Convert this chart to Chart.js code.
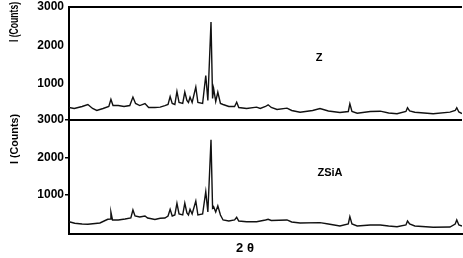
<!DOCTYPE html>
<html>
<head>
<meta charset="utf-8">
<script src="https://cdn.jsdelivr.net/npm/chart.js@4.4.1/dist/chart.umd.min.js"></script>
<style>
  html, body { margin: 0; padding: 0; background: #fff; }
  #wrap { position: relative; width: 463px; height: 258px; overflow: hidden; }
  canvas { position: absolute; left: 0; }
  #topChart { top: 0; }
  #botChart { top: 110px; }
</style>
</head>
<body>
<div id="wrap">
  <canvas id="topChart" width="463" height="128"></canvas>
  <canvas id="botChart" width="463" height="148"></canvas>
</div>
<script>
// 2theta (deg) and intensity (counts)
const twoThetaZ = [5.0, 6.0, 7.5, 8.6, 9.5, 10.3, 11.5, 12.6, 13.0, 13.4, 14.4, 15.5, 16.6, 17.2, 17.7, 18.5, 19.5, 20.2, 21.4, 22.4,
  23.3, 23.9, 24.3, 24.7, 25.2, 25.6, 26.0, 26.7, 27.1, 27.5, 27.8, 28.1, 28.5, 29.2, 29.6, 30.5, 31.1, 31.5, 32.1, 32.4,
  32.6, 33.0, 33.4, 33.9, 34.4, 35.5, 36.6, 37.0, 37.4, 38.9, 40.8, 41.5, 42.5, 43.0, 43.6, 44.7, 46.6, 47.5, 49.1, 51.5,
  52.9, 54.5, 56.7, 58.3, 58.6, 59.0, 60.0, 62.5, 64.4, 66.0, 67.6, 69.3, 69.6, 70.0, 71.0, 74.5, 77.7, 78.7, 79.0, 79.4, 80.0];
const countsZ = [390, 364, 416, 468, 364, 312, 364, 416, 600, 440, 440, 416, 440, 660, 494, 440, 494, 390, 390, 400,
  440, 470, 676, 494, 468, 806, 520, 494, 790, 572, 520, 660, 520, 920, 520, 494, 1220, 572, 2610, 624,
  884, 546, 790, 494, 468, 416, 416, 528, 390, 364, 400, 364, 416, 460, 390, 338, 372, 312, 268, 312,
  364, 300, 260, 286, 486, 286, 242, 286, 294, 247, 226, 286, 382, 300, 268, 226, 268, 312, 382, 273, 234];

const twoThetaZSiA = [5.0, 6.1, 7.5, 8.6, 10.0, 10.9, 12.4, 12.9, 13.0, 13.3, 14.4, 15.7, 16.8, 17.2, 17.6, 18.5, 19.5, 20.0, 20.5, 21.4,
  22.4, 23.3, 23.9, 24.3, 24.7, 25.2, 25.6, 26.0, 26.7, 27.1, 27.5, 27.8, 28.1, 28.5, 29.2, 29.6, 30.5, 31.1, 31.5, 32.1,
  32.4, 32.6, 33.0, 33.4, 33.9, 34.4, 35.5, 36.6, 37.0, 37.4, 38.9, 40.8, 42.5, 43.0, 43.6, 46.6, 47.5, 49.1, 52.9, 54.5,
  56.7, 58.3, 58.6, 59.0, 60.0, 62.5, 64.4, 66.0, 67.6, 69.3, 69.6, 70.0, 71.0, 74.5, 77.7, 78.7, 79.0, 79.4, 80.0];
const countsZSiA = [288, 246, 227, 219, 240, 254, 352, 360, 540, 334, 334, 360, 387, 600, 440, 414, 440, 387, 374, 347,
  379, 387, 440, 620, 440, 467, 780, 494, 467, 780, 520, 467, 620, 494, 840, 467, 494, 1090, 547, 2470,
  654, 690, 547, 710, 467, 334, 307, 334, 405, 307, 288, 288, 334, 352, 320, 334, 280, 254, 262, 227,
  174, 227, 422, 227, 174, 200, 200, 174, 155, 200, 307, 227, 174, 139, 147, 227, 334, 200, 174];

const yTicks = [1000, 2000, 3000];
const xRange = [5, 80];

function toPoints(xs, ys) { return xs.map((x, i) => ({x: x, y: ys[i]})); }

// extra lines + free text drawn on the canvas
const decor = {
  id: 'decor',
  afterDraw(chart, args, opts) {
    const ctx = chart.ctx, a = chart.chartArea;
    ctx.save();
    ctx.strokeStyle = '#000';
    ctx.lineWidth = 2;
    (opts.lines || []).forEach(side => {
      ctx.beginPath();
      if (side === 'top') { ctx.moveTo(a.left, a.top); ctx.lineTo(a.right, a.top); }
      if (side === 'bottom') { ctx.moveTo(a.left, a.bottom); ctx.lineTo(a.right, a.bottom); }
      ctx.stroke();
    });
    ctx.fillStyle = '#000';
    ctx.textBaseline = 'middle';
    ctx.textAlign = 'center';
    (opts.texts || []).forEach(t => {
      ctx.save();
      ctx.font = t.font;
      ctx.translate(t.x, t.y);
      if (t.rot) ctx.rotate(t.rot);
      if (t.maxWidth) ctx.fillText(t.text, 0, 0, t.maxWidth);
      else ctx.fillText(t.text, 0, 0);
      ctx.restore();
    });
    ctx.restore();
  }
};

function makeChart(id, pts, yMin, pad, dash, xAxisH, decorOpts) {
  return new Chart(document.getElementById(id), {
    type: 'line',
    data: { datasets: [{ data: pts, borderColor: '#111', borderWidth: 1.4, pointRadius: 0, tension: 0, fill: false }] },
    options: {
      responsive: false, animation: false,
      layout: { padding: pad },
      plugins: { legend: { display: false }, tooltip: { enabled: false }, decor: decorOpts },
      scales: {
        x: {
          type: 'linear', min: xRange[0], max: xRange[1],
          display: xAxisH > 0,
          ticks: { display: false },
          grid: { display: false },
          border: { display: true, color: '#000', width: 2 },
          afterFit: s => { s.height = xAxisH; }
        },
        y: {
          min: yMin, max: 3000,
          afterBuildTicks: s => { s.ticks = yTicks.map(v => ({value: v})); },
          afterFit: s => { s.width = 69; },
          ticks: {
            color: '#000', padding: 1,
            font: { family: 'Liberation Sans, Arial, sans-serif', size: 12, weight: 'bold', lineHeight: 1 },
            callback: v => String(v)
          },
          grid: { drawOnChartArea: false, drawTicks: true, tickLength: 4, color: '#000',
                  tickColor: dash ? '#000' : 'rgba(0,0,0,0)', lineWidth: 1.5 },
          border: { display: true, color: '#000', width: 2 }
        }
      }
    },
    plugins: [decor]
  });
}

const boldFont = 'bold 11px "Liberation Sans", Arial, sans-serif';

makeChart('topChart', toPoints(twoThetaZ, countsZ), 65, {top: 7, bottom: 8, left: 0, right: 1}, false, 0, {
  lines: ['top', 'bottom'],
  texts: [
    { text: 'I (Counts)', x: 15, y: 22, rot: -Math.PI / 2, font: 'bold 12px "Liberation Sans", Arial, sans-serif', maxWidth: 40 },
    { text: 'Z', x: 319, y: 58, font: boldFont }
  ]
});

makeChart('botChart', toPoints(twoThetaZSiA, countsZSiA), -40, {top: 10, bottom: 0, left: 0, right: 1}, true, 24, {
  lines: [],
  texts: [
    { text: 'I (Counts)', x: 15, y: 29, rot: -Math.PI / 2, font: boldFont, maxWidth: 50 },
    { text: 'ZSiA', x: 330, y: 63, font: boldFont },
    { text: '2 θ', x: 245, y: 138, font: 'bold 13px "Liberation Sans", Arial, sans-serif' }
  ]
});
</script>
</body>
</html>
